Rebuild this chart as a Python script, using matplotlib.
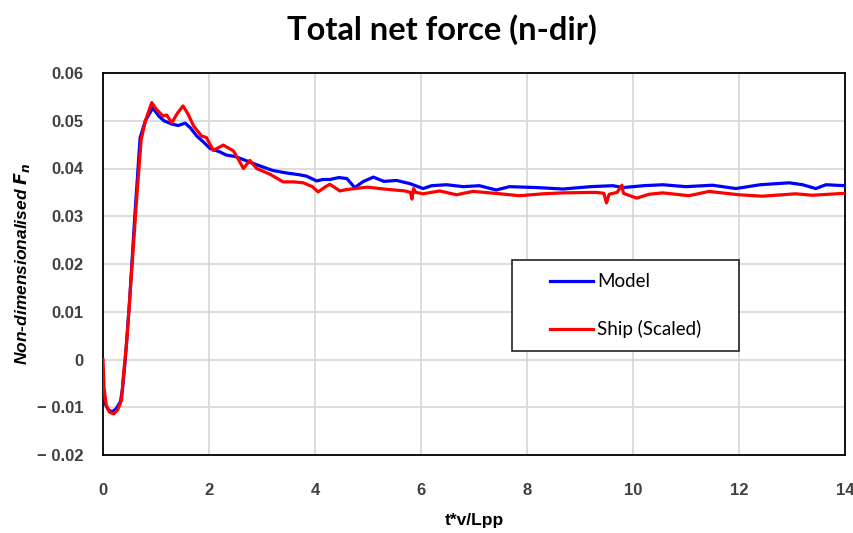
import matplotlib
matplotlib.use("Agg")
import matplotlib.pyplot as plt
from matplotlib.patches import Rectangle
from matplotlib import font_manager as fm

model_x = [0, 0.05, 0.1, 0.17, 0.25, 0.33, 0.37, 0.42, 0.5, 0.6, 0.7, 0.8, 0.94, 1.05, 1.15, 1.3,
           1.42, 1.55, 1.65, 1.77, 1.9, 2.02, 2.2, 2.33, 2.5, 2.64, 2.8, 3.02, 3.2, 3.34, 3.5, 3.7,
           3.84, 4.03, 4.15, 4.28, 4.45, 4.6, 4.75, 4.9, 5.1, 5.3, 5.54, 5.8, 6.04, 6.2, 6.48, 6.8,
           7.1, 7.42, 7.67, 8.2, 8.68, 9.2, 9.62, 9.81, 10.2, 10.56, 11.0, 11.5, 11.94, 12.4, 12.95,
           13.2, 13.45, 13.64, 14.0]
model_y = [-0.0066, -0.0095, -0.0105, -0.011, -0.0103, -0.0088, -0.006, 0.0, 0.012, 0.030, 0.0464,
           0.050, 0.0527, 0.0510, 0.0500, 0.0493, 0.0490, 0.0495, 0.0485, 0.0468, 0.0455, 0.0442,
           0.0435, 0.0428, 0.0425, 0.0419, 0.0412, 0.0403, 0.0396, 0.0393, 0.0390, 0.0387, 0.0384,
           0.0374, 0.0377, 0.0377, 0.0381, 0.0379, 0.0360, 0.0372, 0.0382, 0.0373, 0.0375, 0.0368,
           0.0358, 0.0364, 0.0366, 0.0362, 0.0364, 0.0355, 0.0362, 0.0360, 0.0357, 0.0362, 0.0364,
           0.0360, 0.0364, 0.0366, 0.0362, 0.0365, 0.0358, 0.0366, 0.0370, 0.0366, 0.0358, 0.0366,
           0.0364]

ship_x = [0, 0.02, 0.06, 0.12, 0.2, 0.28, 0.35, 0.38, 0.45, 0.55, 0.65, 0.72, 0.8, 0.92, 1.0, 1.13,
          1.2, 1.3, 1.4, 1.51, 1.6, 1.71, 1.86, 1.95, 2.08, 2.27, 2.46, 2.55, 2.65, 2.77, 2.9, 3.15,
          3.4, 3.6, 3.78, 3.95, 4.06, 4.2, 4.28, 4.47, 4.6, 4.99, 5.3, 5.7, 5.8, 5.83, 5.86, 5.9,
          6.04, 6.35, 6.67, 6.98, 7.4, 7.86, 8.3, 8.68, 9.3, 9.45, 9.5, 9.55, 9.7, 9.79, 9.82,
          10.07, 10.3, 10.56, 11.06, 11.43, 12.0, 12.44, 13.07, 13.38, 14.0]
ship_y = [0.0, -0.006, -0.0095, -0.011, -0.0114, -0.0105, -0.0085, -0.004, 0.004, 0.020, 0.036,
          0.046, 0.050, 0.0538, 0.0525, 0.051, 0.0512, 0.0496, 0.0515, 0.0531, 0.0515, 0.0489,
          0.0468, 0.0465, 0.0438, 0.0449, 0.0437, 0.042, 0.0400, 0.0417, 0.0400, 0.0388, 0.0372,
          0.0372, 0.0370, 0.0362, 0.0351, 0.0362, 0.0367, 0.0353, 0.0356, 0.0361, 0.0357, 0.0353,
          0.0350, 0.0336, 0.0358, 0.0350, 0.0347, 0.0353, 0.0345, 0.0352, 0.0348, 0.0343, 0.0347,
          0.0349, 0.0350, 0.0348, 0.0328, 0.0346, 0.0350, 0.0365, 0.0348, 0.0338, 0.0346, 0.0349,
          0.0343, 0.0352, 0.0345, 0.0342, 0.0347, 0.0344, 0.0348]

x_ticks = [0, 2, 4, 6, 8, 10, 12, 14]
y_ticks = [-0.02, -0.01, 0, 0.01, 0.02, 0.03, 0.04, 0.05, 0.06]
y_tick_labels = ["\u2212 0.02", "\u2212 0.01", "0", "0.01", "0.02", "0.03", "0.04", "0.05", "0.06"]

names = {f.name for f in fm.fontManager.ttflist}
tick_font = "Liberation Sans Narrow" if "Liberation Sans Narrow" in names else "Liberation Sans"

fig = plt.figure(figsize=(8.54, 5.33), dpi=100)
ax = fig.add_axes([103/854, 78/533, 742/854, 382/533])

ax.plot(model_x, model_y, color="#0000ff", lw=2.3, label="Model", zorder=3)
ax.plot(ship_x, ship_y, color="#ff0000", lw=2.3, label="Ship (Scaled)", zorder=4)

ax.set_xlim(0, 14)
ax.set_ylim(-0.02, 0.06)
ax.set_xticks(x_ticks)
ax.set_xticklabels([str(v) for v in x_ticks])
ax.set_yticks(y_ticks)
ax.set_yticklabels(y_tick_labels)
ax.grid(True, color="#d9d9d9", lw=1.3)
ax.set_axisbelow(True)
for s in ax.spines.values():
    s.set_color("black")
    s.set_linewidth(1.3)
ax.tick_params(axis="both", length=0, labelsize=12, colors="#404040")
ax.tick_params(axis="x", pad=20)
ax.tick_params(axis="y", pad=14)
for lab in ax.get_xticklabels() + ax.get_yticklabels():
    lab.set_fontfamily(tick_font)
    lab.set_fontweight("bold")

ax.set_xlabel("t*v/Lpp", fontsize=12.5, fontweight="bold", family=tick_font, va="center")
ax.xaxis.set_label_coords(0.5, (455 - 520) / 382)
ax.set_ylabel("Non-dimensionalised $\\mathbfit{F}_{\\mathbfit{n}}$", fontsize=12.5,
              fontweight="bold", style="italic", family=tick_font, va="center")
ax.yaxis.set_label_coords((22 - 103) / 742, 0.5)

fig.text(442/854, 1 - 30/533, "Total net force (n-dir)", ha="center", va="center",
         fontsize=23.5, fontweight="bold", family="Lato")

# legend box
ax.add_patch(Rectangle((0.551, 0.272), 0.306, 0.238, transform=ax.transAxes,
                       facecolor="white", edgecolor="#222222", lw=1.2, zorder=5))
leg = ax.legend(loc="center left", bbox_to_anchor=(0.58, 0.391), frameon=False,
                handlelength=2.3, handletextpad=0.2, labelspacing=1.6,
                prop={"family": "Lato", "size": 13.5})
leg.set_zorder(6)

fig.savefig("out.png", dpi=100, facecolor="white")
